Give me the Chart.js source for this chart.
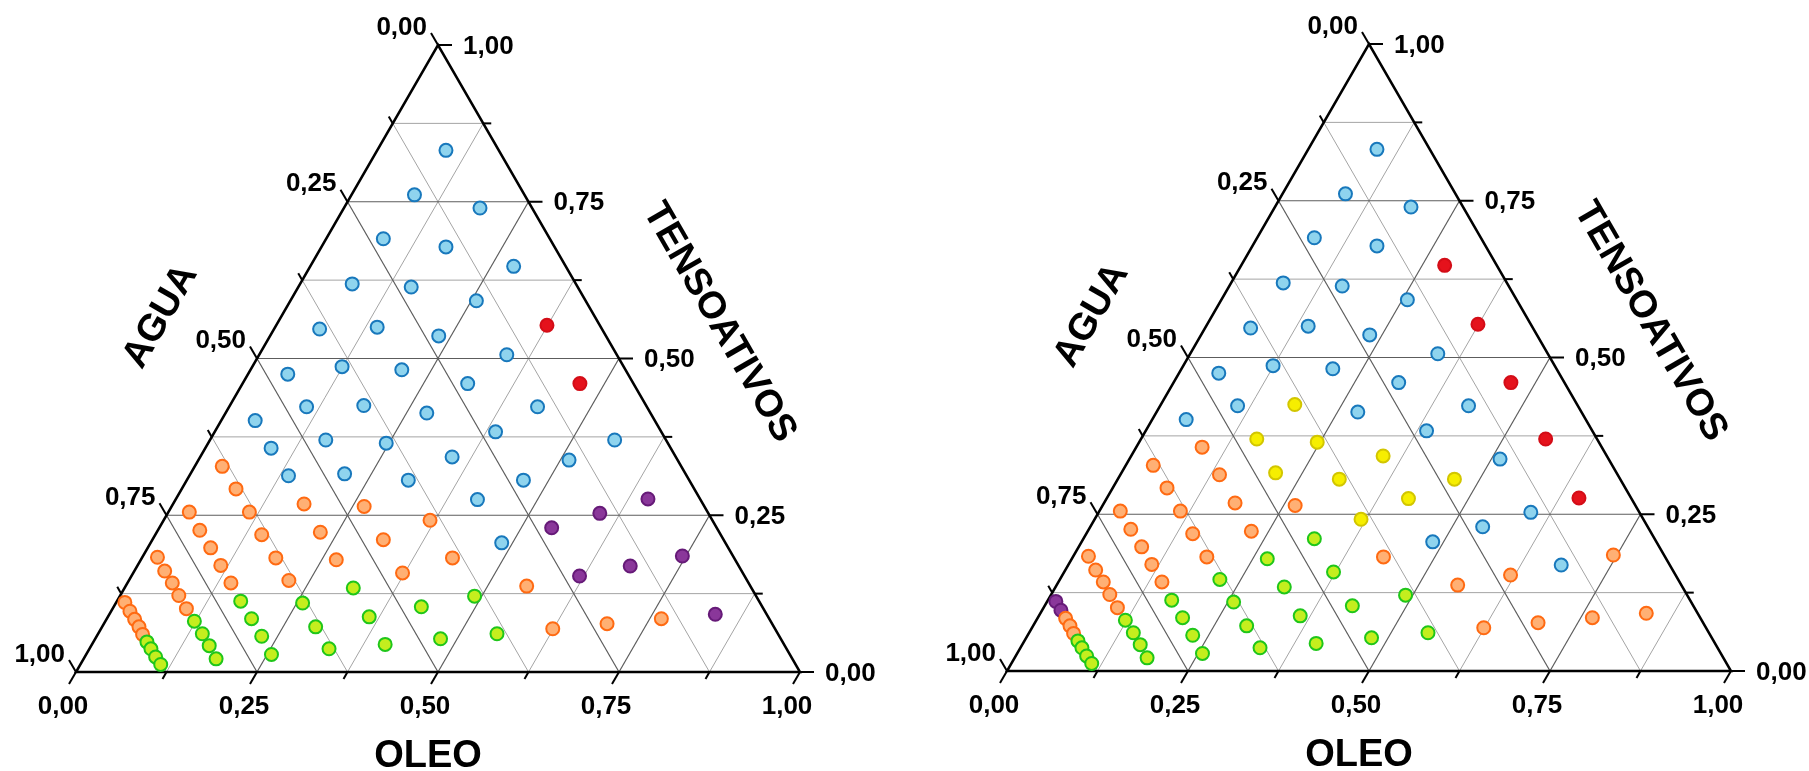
<!DOCTYPE html>
<html lang="pt">
<head>
<meta charset="utf-8">
<title>Diagramas ternários</title>
<script src="https://cdn.jsdelivr.net/npm/chart.js@4.4.1/dist/chart.umd.min.js"></script>
<style>
  html, body { margin: 0; padding: 0; background: #ffffff; }
  #pagina { position: relative; width: 1809px; height: 771px; overflow: hidden; background: #ffffff; }
  canvas { position: absolute; top: 0; }
  #esq { left: 0; }
  #dir { left: 904px; }
</style>
</head>
<body>
<div id="pagina">
  <canvas id="esq" width="904" height="771"></canvas>
  <canvas id="dir" width="905" height="771"></canvas>
</div>
<script>
// Composições [OLEO, AGUA, TENSOATIVOS] (frações mássicas)

// ---- Diagrama da esquerda ----
const esqAzul = [
  [0.095,0.073,0.832],[0.188,0.072,0.740],[0.281,0.072,0.647],[0.559,0.071,0.370],
  [0.087,0.152,0.761],[0.172,0.150,0.678],[0.257,0.151,0.592],[0.342,0.152,0.506],[0.426,0.151,0.423],[0.512,0.150,0.338],
  [0.079,0.230,0.691],[0.156,0.230,0.614],[0.233,0.231,0.536],[0.311,0.229,0.460],[0.388,0.229,0.383],[0.465,0.229,0.306],
  [0.072,0.309,0.619],[0.141,0.309,0.550],[0.209,0.309,0.482],[0.278,0.309,0.413],[0.348,0.309,0.343],[0.417,0.308,0.275],[0.485,0.309,0.206],
  [0.063,0.390,0.547],[0.124,0.389,0.487],[0.185,0.390,0.425],[0.246,0.389,0.365],[0.306,0.388,0.306],
  [0.055,0.470,0.475],[0.107,0.470,0.423],[0.160,0.470,0.370],[0.213,0.471,0.316],
  [0.047,0.552,0.401],[0.091,0.552,0.357],[0.137,0.550,0.313]
];
const esqVermelho = [[0.374,0.073,0.553],[0.466,0.074,0.460]];
const esqRoxo = [
  [0.652,0.072,0.276],[0.745,0.070,0.185],[0.837,0.071,0.092],
  [0.597,0.150,0.253],[0.681,0.150,0.169],
  [0.542,0.228,0.230],[0.619,0.228,0.153]
];
const esqLaranja = [
  [0.766,0.149,0.085],[0.695,0.228,0.077],
  [0.554,0.309,0.137],[0.624,0.307,0.069],
  [0.368,0.390,0.242],[0.429,0.389,0.182],
  [0.266,0.470,0.264],[0.319,0.470,0.211],[0.372,0.470,0.158],
  [0.181,0.551,0.268],[0.226,0.551,0.223],[0.270,0.551,0.179],
  [0.038,0.634,0.328],[0.075,0.633,0.292],[0.112,0.633,0.255],[0.147,0.634,0.219],[0.185,0.633,0.182],[0.221,0.633,0.146],
  [0.029,0.716,0.255],[0.058,0.716,0.226],[0.087,0.715,0.198],[0.115,0.715,0.170],[0.143,0.715,0.142],
  [0.021,0.796,0.183],[0.042,0.797,0.161],[0.062,0.796,0.142],[0.081,0.797,0.122],[0.102,0.797,0.101],
  [0.012,0.877,0.111],[0.026,0.877,0.097],[0.039,0.877,0.084],[0.051,0.877,0.072],[0.062,0.878,0.060]
];
const esqVerde = [
  [0.490,0.389,0.121],[0.551,0.388,0.061],
  [0.425,0.471,0.104],[0.477,0.470,0.053],
  [0.316,0.550,0.134],[0.361,0.551,0.088],[0.405,0.551,0.044],
  [0.258,0.632,0.110],[0.295,0.633,0.072],[0.331,0.632,0.037],
  [0.171,0.716,0.113],[0.200,0.715,0.085],[0.228,0.715,0.057],[0.256,0.716,0.028],
  [0.123,0.796,0.081],[0.144,0.795,0.061],[0.163,0.795,0.042],[0.183,0.796,0.021],
  [0.074,0.878,0.048],[0.085,0.878,0.037],[0.098,0.878,0.024],[0.111,0.877,0.012]
];

// ---- Diagrama da direita ----
const dirAzul = [
  [0.095,0.073,0.832],[0.188,0.072,0.740],
  [0.087,0.152,0.761],[0.172,0.150,0.678],[0.257,0.151,0.592],[0.342,0.152,0.506],[0.426,0.151,0.423],[0.512,0.150,0.338],[0.597,0.150,0.253],[0.681,0.150,0.169],
  [0.079,0.230,0.691],[0.156,0.230,0.614],[0.233,0.231,0.536],[0.311,0.229,0.460],[0.388,0.229,0.383],[0.542,0.228,0.230],
  [0.072,0.309,0.619],[0.141,0.309,0.550],[0.209,0.309,0.482],[0.278,0.309,0.413],[0.485,0.309,0.206],
  [0.063,0.390,0.547],[0.124,0.389,0.487],
  [0.055,0.470,0.475],[0.107,0.470,0.423],
  [0.047,0.552,0.401]
];
const dirVermelho = [[0.281,0.072,0.647],[0.374,0.073,0.553],[0.466,0.074,0.460],[0.559,0.071,0.370],[0.652,0.072,0.276]];
const dirAmarelo = [
  [0.465,0.229,0.306],
  [0.348,0.309,0.343],[0.417,0.308,0.275],
  [0.185,0.390,0.425],[0.246,0.389,0.365],[0.306,0.388,0.306],[0.368,0.390,0.242],
  [0.160,0.470,0.370],[0.213,0.471,0.316]
];
const dirLaranja = [
  [0.745,0.070,0.185],[0.837,0.071,0.092],
  [0.766,0.149,0.085],
  [0.619,0.228,0.153],[0.695,0.228,0.077],
  [0.554,0.309,0.137],[0.624,0.307,0.069],
  [0.429,0.389,0.182],
  [0.266,0.470,0.264],
  [0.091,0.552,0.357],[0.137,0.550,0.313],[0.181,0.551,0.268],[0.226,0.551,0.223],
  [0.038,0.634,0.328],[0.075,0.633,0.292],[0.112,0.633,0.255],[0.147,0.634,0.219],[0.185,0.633,0.182],
  [0.029,0.716,0.255],[0.058,0.716,0.226],[0.087,0.715,0.198],[0.115,0.715,0.170],[0.143,0.715,0.142],
  [0.021,0.796,0.183],[0.042,0.797,0.161],[0.062,0.796,0.142],[0.081,0.797,0.122],[0.102,0.797,0.101],
  [0.039,0.877,0.084],[0.051,0.877,0.072],[0.062,0.878,0.060]
];
const dirVerde = [
  [0.490,0.389,0.121],[0.551,0.388,0.061],
  [0.319,0.470,0.211],[0.372,0.470,0.158],[0.425,0.471,0.104],[0.477,0.470,0.053],
  [0.270,0.551,0.179],[0.316,0.550,0.134],[0.361,0.551,0.088],[0.405,0.551,0.044],
  [0.221,0.633,0.146],[0.258,0.632,0.110],[0.295,0.633,0.072],[0.331,0.632,0.037],
  [0.171,0.716,0.113],[0.200,0.715,0.085],[0.228,0.715,0.057],[0.256,0.716,0.028],
  [0.123,0.796,0.081],[0.144,0.795,0.061],[0.163,0.795,0.042],[0.183,0.796,0.021],
  [0.074,0.878,0.048],[0.085,0.878,0.037],[0.098,0.878,0.024],[0.111,0.877,0.012]
];
const dirRoxo = [[0.012,0.877,0.111],[0.026,0.877,0.097]];

// Eixos
const marcas = [0, 0.125, 0.25, 0.375, 0.5, 0.625, 0.75, 0.875, 1];
const valoresRotulo = [0, 0.25, 0.5, 0.75, 1];
const rotulos = ['0,00', '0,25', '0,50', '0,75', '1,00'];
const titulos = { base: 'OLEO', esquerda: 'AGUA', direita: 'TENSOATIVOS' };

const H = Math.sqrt(3) / 2;
function paraXY(c) {
  const s = c[0] + c[1] + c[2];
  return { x: (c[0] + c[2] / 2) / s, y: (c[2] * H) / s };
}

const estilos = {
  azul:     { fill: '#8fd4ee', borda: '#1878bc' },
  vermelho: { fill: '#e5121c', borda: '#d30d17' },
  roxo:     { fill: '#8a379a', borda: '#661a78' },
  laranja:  { fill: '#ffb074', borda: '#ff6a12' },
  verde:    { fill: '#c4ee1e', borda: '#1fc61a' },
  amarelo:  { fill: '#f6ee00', borda: '#d2c600' }
};

function serie(nome, dados, cor) {
  return {
    label: nome,
    data: dados.map(paraXY),
    backgroundColor: estilos[cor].fill,
    borderColor: estilos[cor].borda,
    borderWidth: 2,
    pointRadius: 6.5,
    pointHoverRadius: 6.5,
    clip: false
  };
}

const FONTE = "'Liberation Sans', Arial, sans-serif";

// Desenha grade, bordas, marcas, rótulos e títulos do triângulo
const ternario = {
  id: 'ternario',
  beforeDatasetsDraw(chart) {
    const ctx = chart.ctx, xs = chart.scales.x, ys = chart.scales.y;
    const P = (o, t) => ({ x: xs.getPixelForValue(o + t / 2), y: ys.getPixelForValue(t * H) });
    const linha = (a, b) => { ctx.beginPath(); ctx.moveTo(a.x, a.y); ctx.lineTo(b.x, b.y); ctx.stroke(); };
    const principal = v => Math.abs(v * 4 - Math.round(v * 4)) < 1e-9;

    ctx.save();
    // grade interna: menores primeiro, principais por cima
    for (const passe of [false, true]) {
      for (const v of marcas) {
        if (v === 0 || v === 1 || principal(v) !== passe) continue;
        ctx.strokeStyle = passe ? '#5c5c5c' : '#a4a4a4';
        ctx.lineWidth = passe ? 1.2 : 1;
        linha(P(0, v), P(1 - v, v));
        linha(P(v, 0), P(v, 1 - v));
        linha(P(1 - v, 0), P(0, 1 - v));
      }
    }

    // bordas
    const A = P(0, 0), B = P(1, 0), C = P(0, 1);
    ctx.strokeStyle = '#000';
    ctx.lineWidth = 2.5;
    ctx.lineJoin = 'miter';
    ctx.beginPath();
    ctx.moveTo(A.x, A.y); ctx.lineTo(B.x, B.y); ctx.lineTo(C.x, C.y); ctx.closePath();
    ctx.stroke();

    // marcas dos eixos
    ctx.lineWidth = 2;
    for (const v of marcas) {
      const L = principal(v) ? 14 : 8;
      let p = P(v, 0);
      linha(p, { x: p.x - 0.5 * L, y: p.y + H * L });
      p = P(0, 1 - v);
      linha(p, { x: p.x - 0.5 * L, y: p.y - H * L });
      p = P(1 - v, v);
      linha(p, { x: p.x + L, y: p.y });
    }

    // rótulos numéricos
    ctx.fillStyle = '#000';
    ctx.font = 'bold 26px ' + FONTE;
    ctx.textBaseline = 'alphabetic';
    valoresRotulo.forEach((v, i) => {
      let p = P(v, 0);
      ctx.textAlign = 'center';
      ctx.fillText(rotulos[i], p.x - 13, p.y + 42);
      p = P(0, 1 - v);
      ctx.textAlign = 'right';
      ctx.fillText(rotulos[i], p.x - 11, p.y - 10.5);
      p = P(1 - v, v);
      ctx.textAlign = 'left';
      ctx.fillText(rotulos[i], p.x + 25, p.y + 8.5);
    });

    // títulos dos eixos
    ctx.font = 'bold 38px ' + FONTE;
    ctx.textAlign = 'center';
    ctx.fillText(titulos.base, (A.x + B.x) / 2 - 10, A.y + 95);

    ctx.save();
    ctx.translate(A.x + 82, A.y - 357);
    ctx.rotate(-Math.PI / 3);
    ctx.fillText(titulos.esquerda, 0, 13.6);
    ctx.restore();

    ctx.save();
    ctx.translate(A.x + 646, A.y - 351);
    ctx.rotate(Math.PI / 3);
    ctx.fillText(titulos.direita, 0, 13.6);
    ctx.restore();

    ctx.restore();
  }
};

function criarDiagrama(id, series, padding) {
  return new Chart(document.getElementById(id), {
    type: 'scatter',
    data: { datasets: series },
    options: {
      responsive: false,
      animation: false,
      devicePixelRatio: 1,
      layout: { padding },
      events: [],
      scales: {
        x: { type: 'linear', min: 0, max: 1, display: false },
        y: { type: 'linear', min: 0, max: H, display: false }
      },
      plugins: { legend: { display: false }, tooltip: { enabled: false } }
    },
    plugins: [ternario]
  });
}

criarDiagrama('esq', [
  serie('Verde', esqVerde, 'verde'),
  serie('Laranja', esqLaranja, 'laranja'),
  serie('Roxo', esqRoxo, 'roxo'),
  serie('Azul', esqAzul, 'azul'),
  serie('Vermelho', esqVermelho, 'vermelho')
], { left: 76, right: 104, top: 45, bottom: 99 });

criarDiagrama('dir', [
  serie('Verde', dirVerde, 'verde'),
  serie('Laranja', dirLaranja, 'laranja'),
  serie('Roxo', dirRoxo, 'roxo'),
  serie('Amarelo', dirAmarelo, 'amarelo'),
  serie('Azul', dirAzul, 'azul'),
  serie('Vermelho', dirVermelho, 'vermelho')
], { left: 103, right: 78, top: 44, bottom: 100 });
</script>
</body>
</html>
